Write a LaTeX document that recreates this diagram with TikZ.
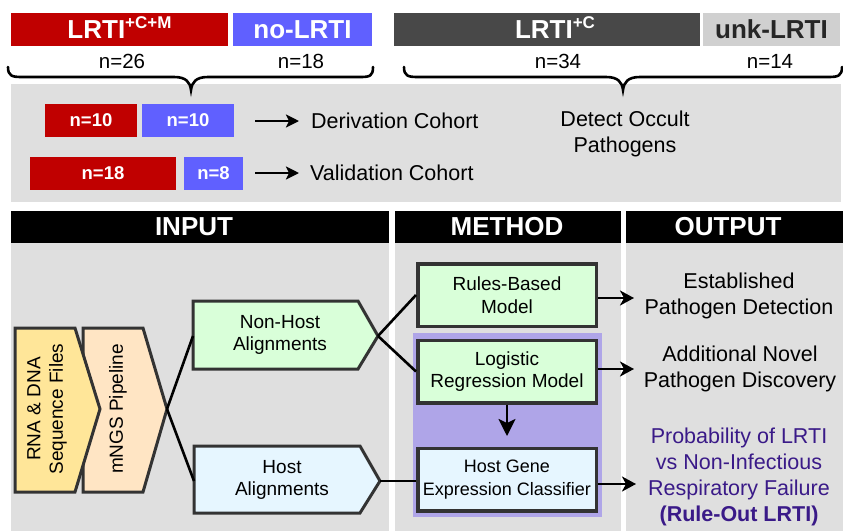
\documentclass[tikz,border=0pt]{standalone}
\usepackage{fontspec}
\setmainfont{Liberation Sans}
\usetikzlibrary{arrows.meta}
\definecolor{cred}{HTML}{C00000}
\definecolor{cblue}{HTML}{6060FF}
\definecolor{cdark}{HTML}{484848}
\definecolor{clight}{HTML}{D0D0D0}
\definecolor{cpanel}{HTML}{DFDFDF}
\definecolor{cpurpbg}{HTML}{AFA5E8}
\definecolor{cpurptext}{HTML}{3A1A88}
\definecolor{cgreen}{HTML}{D9FFD9}
\definecolor{cltblue}{HTML}{E6F6FF}
\definecolor{cyellow}{HTML}{FFE699}
\definecolor{cpeach}{HTML}{FFE5C4}
\definecolor{cborder}{HTML}{333333}
\begin{document}
\begin{tikzpicture}[x=1pt,y=-1pt,
  bar/.style={inner sep=0pt, outer sep=0pt, minimum height=33pt, text=white,
    font=\fontsize{26}{28}\selectfont\bfseries},
  cnt/.style={inner sep=0pt, font=\fontsize{20.5}{24}\selectfont},
  smallbar/.style={inner sep=0pt, outer sep=0pt, minimum height=33pt, text=white,
    font=\fontsize{18.5}{20}\selectfont\bfseries},
  body/.style={inner sep=0pt, align=center, font=\fontsize{21.5}{26}\selectfont},
  head/.style={fill=black, inner sep=0pt, outer sep=0pt, minimum height=32pt},
  headtext/.style={inner sep=0pt, text=white, font=\fontsize{26}{28}\selectfont\bfseries},
  sh/.style={draw=cborder, line width=3pt, line join=miter},
  shtext/.style={inner sep=0pt, align=center, font=\fontsize{19}{22.7}\selectfont},
  mbox/.style={draw=cborder, line width=3.5pt, minimum width=178.5pt, minimum height=62.5pt,
    inner sep=0pt, align=center, font=\fontsize{19}{22.7}\selectfont},
  conn/.style={line width=2.6pt, black},
  arr/.style={conn, -{Stealth[length=14pt,width=15pt,inset=4pt]}},
  brace/.style={line width=2.6pt, black, line cap=round}
]
\useasboundingbox (0,0) rectangle (843,531);
\fill[white] (0,0) rectangle (843,531);

% top category bars
\node[bar, fill=cred, minimum width=217pt] (lrticm) at (119.5,29.5)
  {LRTI\smash{\raisebox{10pt}{\fontsize{17}{17}\selectfont +C+M}}};
\node[bar, fill=cblue, minimum width=139pt] (nolrti) at (302.5,29.5) {no-LRTI};
\node[bar, fill=cdark, minimum width=306pt] (lrtic) at (547,29.5)
  {\hspace*{16pt}LRTI\smash{\raisebox{10pt}{\fontsize{17}{17}\selectfont +C}}};
\node[bar, fill=clight, text=black!85, minimum width=137pt] (unk) at (771.5,29.5) {unk-LRTI};

\node[cnt] (n26) at (122,61) {n=26};
\node[cnt] (n18) at (301,61) {n=18};
\node[cnt] (n34) at (558,61) {n=34};
\node[cnt] (n14) at (770,61) {n=14};

% upper panel
\fill[cpanel] (11,84) rectangle (841,202);

% braces
\draw[brace] (8,67) .. controls (8,76) and (12,77) .. (22,77) -- (174,77)
  .. controls (186,77) and (190,82) .. (191,90)
  .. controls (192,82) and (196,77) .. (208,77) -- (360,77)
  .. controls (370,77) and (373,76) .. (373,67);
\draw[brace] (404,67) .. controls (404,76) and (408,77) .. (418,77) -- (606,77)
  .. controls (618,77) and (622,82) .. (623,90)
  .. controls (624,82) and (628,77) .. (640,77) -- (828,77)
  .. controls (838,77) and (842,76) .. (842,67);

% cohorts
\node[smallbar, fill=cred, minimum width=92pt] (d1) at (91,120.5) {n=10};
\node[smallbar, fill=cblue, minimum width=92pt] (d2) at (188,120.5) {n=10};
\node[smallbar, fill=cred, minimum width=146pt] (v1) at (103,173.5) {n=18};
\node[smallbar, fill=cblue, minimum width=59pt] (v2) at (213.5,173.5) {n=8};
\node[body, anchor=west] (deriv) at (311,121) {Derivation Cohort};
\node[body, anchor=west] (valid) at (310,173) {Validation Cohort};
\coordinate (da) at (255,121);
\coordinate (va) at (255,173);
\draw[conn, shorten >=12pt, -{Stealth[length=13pt,width=13pt,inset=3pt]}] (da) -- (deriv.west);
\draw[conn, shorten >=11pt, -{Stealth[length=13pt,width=13pt,inset=3pt]}] (va) -- (valid.west);
\node[body] (occult) at (625,134) {Detect Occult\\Pathogens};

% lower panels and headers
\fill[cpanel] (11,243) rectangle (389,531);
\fill[cpanel] (395,243) rectangle (621,531);
\fill[cpanel] (626,243) rectangle (843,531);
\node[head, minimum width=378pt] (hin) at (200,227) {};
\node[head, minimum width=226pt] (hme) at (508,227) {};
\node[head, minimum width=217pt] (hou) at (734.5,227) {};
\node[headtext] (tin) at (194,227) {INPUT};
\node[headtext] (tme) at (507,227) {METHOD};
\node[headtext] (tou) at (728,227) {OUTPUT};

% purple background
\fill[cpurpbg] (413,333) rectangle (602,517);

% input shapes
\draw[sh, fill=cpeach] (83,328) -- (143,328) -- (167,409) -- (143,492) -- (83,492) -- cycle;
\draw[sh, fill=cyellow] (15,328) -- (75,328) -- (100,409) -- (75,492) -- (15,492) -- cycle;
\node[shtext, rotate=90] (rna) at (47,409) {RNA \& DNA\\Sequence Files};
\node[shtext, rotate=90] (mngs) at (118,409) {mNGS Pipeline};
\coordinate (mngstip) at (167,409);

\draw[sh, fill=cgreen] (193,301) -- (358,301) -- (378,336) -- (358,369) -- (193,369) -- cycle;
\node[shtext] (nonhost) at (280,335) {Non-Host\\Alignments};
\coordinate (nhL) at (193,336);
\coordinate (nhR) at (378,336);

\draw[sh, fill=cltblue] (194,446) -- (360,446) -- (380,481) -- (360,513) -- (194,513) -- cycle;
\node[shtext] (host) at (282,480) {Host\\Alignments};
\coordinate (hL) at (194,481);
\coordinate (hR) at (380,481);

% method boxes
\node[mbox, fill=cgreen] (rules) at (507,295) {Rules-Based\\Model};
\node[mbox, fill=cgreen] (logit) at (507,371.5) {Logistic\\Regression Model};
\node[mbox, fill=cltblue, font=\fontsize{18}{22.7}\selectfont] (hgene) at (507,479.5) {Host Gene\\Expression Classifier};

% connectors
\draw[conn] (mngstip) -- (nhL);
\draw[conn] (mngstip) -- (hL);
\draw[conn] (nhR) -- (rules.west);
\draw[conn] (nhR) -- (logit.west);
\draw[conn] (hR) -- (hgene.west |- hR);
\coordinate (ldown) at (507,436);
\draw[conn, -{Stealth[length=17pt,width=17pt,inset=4pt]}] (logit.south) -- (ldown);

% outputs
\node[body] (o1) at (739,296) {Established\\Pathogen Detection};
\node[body] (o2) at (740,369) {Additional Novel\\Pathogen Discovery};
\node[body, text=cpurptext] (o3) at (739,477)
  {Probability of LRTI\\vs Non-Infectious\\Respiratory Failure\\\textbf{(Rule-Out LRTI)}};
\coordinate (a1) at (634,298);
\coordinate (a2) at (634,369);
\coordinate (a3) at (636,484);
\draw[arr] (rules.east |- a1) -- (a1);
\draw[arr] (logit.east |- a2) -- (a2);
\draw[arr] (hgene.east |- a3) -- (a3);
\end{tikzpicture}
\end{document}
